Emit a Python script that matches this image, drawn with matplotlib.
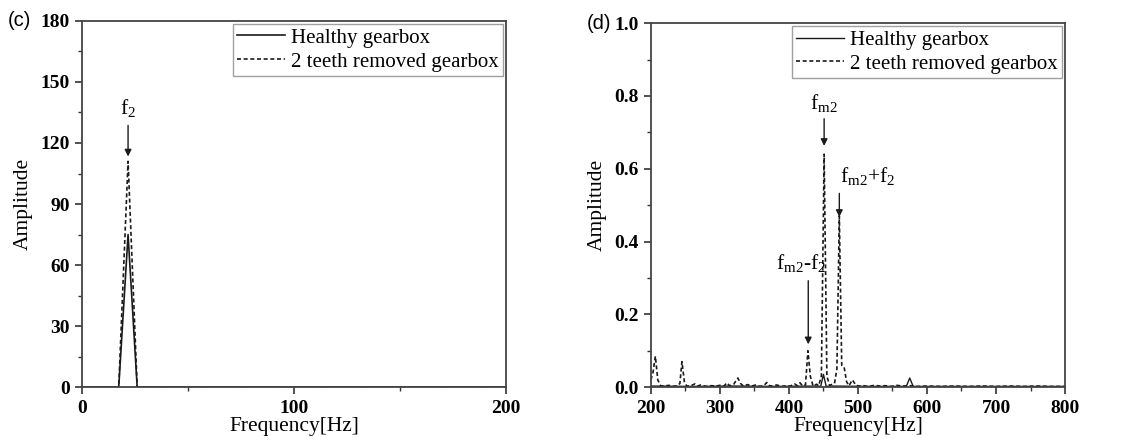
import matplotlib
matplotlib.use("Agg")
import matplotlib.pyplot as plt

plt.rcParams['font.family'] = ['Liberation Serif', 'DejaVu Serif']
plt.rcParams['mathtext.fontset'] = 'custom'
plt.rcParams['mathtext.rm'] = 'Liberation Serif'
plt.rcParams['mathtext.it'] = 'Liberation Serif'

# ---------------- data: panel (c) ----------------
freq_c_healthy = [0, 17.3, 21.7, 26.0, 200]
amp_c_healthy = [0, 0, 75, 0, 0]
freq_c_fault = [0, 17.3, 21.7, 26.0, 200]
amp_c_fault = [0, 0, 111, 0, 0]

# ---------------- data: panel (d) ----------------
freq_d_fault = [200, 203, 206.5, 210, 214, 220, 226, 232, 238, 242, 245, 248.5, 252,
                258, 264, 268, 272, 280, 288, 294, 300, 306, 310, 314, 320, 326, 330,
                334, 340, 346, 352, 358, 364, 368, 372, 376, 382, 390, 396, 402, 408,
                412, 416, 420, 424, 427.5, 431, 435, 440, 443, 447, 451, 455, 459, 463,
                466, 469.5, 473, 476.5, 480, 483.5, 487, 492, 497, 502, 508, 515, 524,
                532, 540, 548, 556, 565, 575, 585, 600, 620, 640, 660, 680, 700, 720,
                740, 760, 780, 800]
amp_d_fault = [0.02, 0.04, 0.085, 0.02, 0.004, 0.003, 0.005, 0.002, 0.004, 0.01, 0.07, 0.015, 0.003,
               0.004, 0.009, 0.003, 0.006, 0.002, 0.004, 0.003, 0.005, 0.003, 0.012, 0.004, 0.008, 0.025, 0.01,
               0.003, 0.007, 0.003, 0.006, 0.002, 0.005, 0.013, 0.004, 0.003, 0.006, 0.002, 0.004, 0.003, 0.009,
               0.004, 0.012, 0.003, 0.006, 0.1, 0.03, 0.003, 0.008, 0.004, 0.03, 0.64, 0.03, 0.005, 0.008,
               0.01, 0.05, 0.47, 0.06, 0.055, 0.015, 0.004, 0.02, 0.005, 0.003, 0.004, 0.002, 0.005,
               0.003, 0.004, 0.002, 0.005, 0.003, 0.004, 0.002, 0.003, 0.002, 0.003, 0.002, 0.003, 0.002, 0.003,
               0.002, 0.003, 0.002, 0.002]
freq_d_healthy = [200, 260, 320, 380, 440, 446, 450, 454, 460, 520, 570, 575, 580, 650, 720, 800]
amp_d_healthy = [0.003, 0.002, 0.003, 0.002, 0.003, 0.002, 0.035, 0.002, 0.003, 0.002, 0.002, 0.025, 0.002,
                 0.002, 0.002, 0.002]

legend_labels = ['Healthy gearbox', '2 teeth removed gearbox']

# ---------------- figure ----------------
fig = plt.figure(figsize=(11.3, 4.45), dpi=100)
axc = fig.add_axes([0.0726, 0.130, 0.3754, 0.823])
axd = fig.add_axes([0.576, 0.130, 0.3665, 0.818])

lc = '#1a1a1a'
dash = (0, (2.4, 1.6))

def style(ax):
    for s in ax.spines.values():
        s.set_linewidth(1.3)
        s.set_color('#444444')
    ax.tick_params(which='both', direction='out', top=False, right=False, colors='#333333',
                   labelcolor='black')
    ax.tick_params(which='major', length=5, width=1.2, labelsize=14, pad=4)
    ax.tick_params(which='minor', length=3, width=1.0)
    for lab in ax.get_xticklabels() + ax.get_yticklabels():
        lab.set_fontweight('bold')

def add_legend(ax):
    leg = ax.legend(loc='upper right', fontsize=15, frameon=True, fancybox=False,
                    edgecolor='#888888', handlelength=2.3, handletextpad=0.3,
                    borderpad=0.2, labelspacing=0.2, borderaxespad=0.15)
    leg.get_frame().set_linewidth(1.0)
    return leg

# panel (c)
axc.plot(freq_c_healthy, amp_c_healthy, color=lc, lw=1.2, label=legend_labels[0])
axc.plot(freq_c_fault, amp_c_fault, color=lc, lw=1.2, linestyle=dash, label=legend_labels[1])
axc.set_xlim(0, 200)
axc.set_ylim(0, 180)
axc.set_xticks([0, 100, 200])
axc.set_xticks([50, 150], minor=True)
axc.set_yticks(range(0, 181, 30))
axc.set_yticks(range(15, 180, 30), minor=True)
style(axc)
axc.set_xlabel('Frequency[Hz]', fontsize=15.5, labelpad=0)
axc.set_ylabel('Amplitude', fontsize=15.5, labelpad=5)
axc.annotate('', xy=(21.7, 112), xytext=(21.7, 130),
             arrowprops=dict(arrowstyle='-|>', color=lc, lw=1.0, mutation_scale=10))
axc.text(21.7, 132, r'$\mathrm{f_2}$', ha='center', va='bottom', fontsize=15.5)
add_legend(axc)
fig.text(0.007, 0.953, '(c)', fontsize=14.5, family='Liberation Sans', va='center', ha='left')

# panel (d)
axd.plot(freq_d_healthy, amp_d_healthy, color=lc, lw=1.0, label=legend_labels[0])
axd.plot(freq_d_fault, amp_d_fault, color=lc, lw=1.2, linestyle=dash, label=legend_labels[1])
axd.set_xlim(200, 800)
axd.set_ylim(0, 1.0)
axd.set_xticks(range(200, 801, 100))
axd.set_xticks(range(250, 800, 100), minor=True)
axd.set_yticks([0.0, 0.2, 0.4, 0.6, 0.8, 1.0])
axd.set_yticks([0.1, 0.3, 0.5, 0.7, 0.9], minor=True)
axd.yaxis.set_major_formatter(matplotlib.ticker.FormatStrFormatter('%.1f'))
style(axd)
axd.set_xlabel('Frequency[Hz]', fontsize=15.5, labelpad=0)
axd.set_ylabel('Amplitude', fontsize=15.5, labelpad=5)

arrow_kw = dict(arrowstyle='-|>', color=lc, lw=1.0, mutation_scale=10)
axd.annotate('', xy=(451, 0.655), xytext=(451, 0.745), arrowprops=arrow_kw)
axd.text(451, 0.75, r'$\mathrm{f_{m2}}$', ha='center', va='bottom', fontsize=15.5)
axd.annotate('', xy=(473, 0.46), xytext=(473, 0.54), arrowprops=arrow_kw)
axd.text(474, 0.55, r'$\mathrm{f_{m2}{+}f_2}$', ha='left', va='bottom', fontsize=15.5)
axd.annotate('', xy=(428, 0.11), xytext=(428, 0.30), arrowprops=arrow_kw)
axd.text(417, 0.31, r'$\mathrm{f_{m2}\text{-}f_2}$', ha='center', va='bottom', fontsize=15.5)

add_legend(axd)
fig.text(0.519, 0.948, '(d)', fontsize=14.5, family='Liberation Sans', va='center', ha='left')

fig.savefig('out.png', dpi=100)
